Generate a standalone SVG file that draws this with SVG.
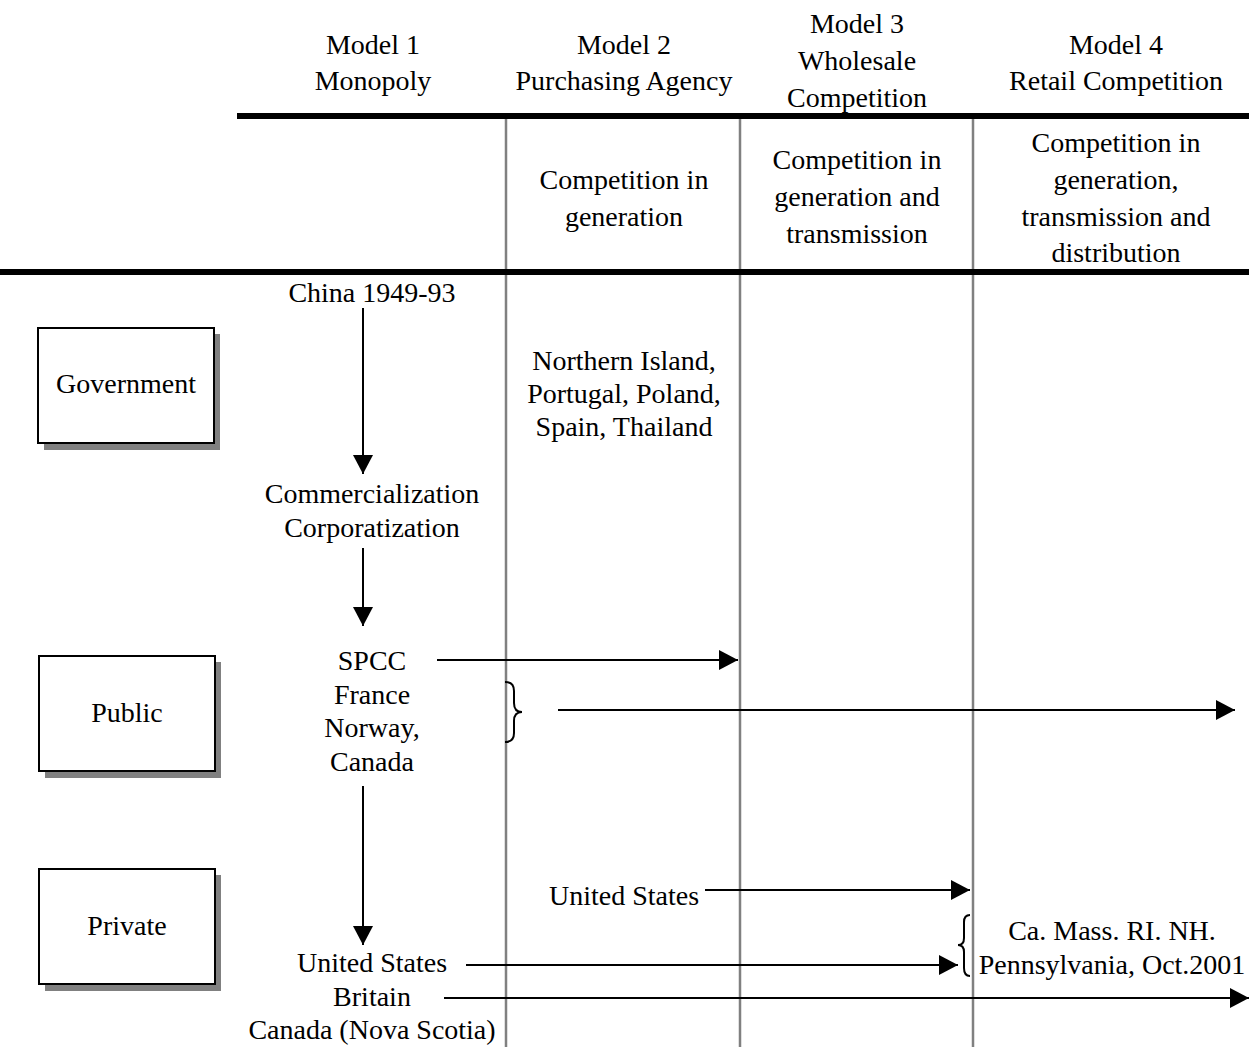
<svg xmlns="http://www.w3.org/2000/svg" width="1249" height="1047" viewBox="0 0 1249 1047">
<style>
text{font-family:"Liberation Serif","Times New Roman",serif;font-size:28px;fill:#000;text-anchor:middle}
.vl{stroke:#808080;stroke-width:2.5;fill:none}
.hl{stroke:#000;stroke-width:6;fill:none}
.box{fill:#fff;stroke:#000;stroke-width:2}
.sh{fill:#808080}
.c{stroke:#000;stroke-width:2;fill:none}
</style>
<defs>
<marker id="ah" markerUnits="userSpaceOnUse" markerWidth="22" markerHeight="22" refX="19" refY="10" orient="auto">
<path d="M0,0 L19,10 L0,20 Z" fill="#000"/>
</marker>
</defs>
<rect width="1249" height="1047" fill="#fff"/>
<g id="grid">
<line class="vl" x1="506" y1="119" x2="506" y2="1047"/>
<line class="vl" x1="740" y1="119" x2="740" y2="1047"/>
<line class="vl" x1="973" y1="119" x2="973" y2="1047"/>
<line class="hl" x1="237" y1="116" x2="1249" y2="116"/>
<line class="hl" x1="0" y1="272" x2="1249" y2="272"/>
</g>
<g id="headers">
<text x="373" y="54">Model 1</text>
<text x="373" y="90">Monopoly</text>
<text x="624" y="54">Model 2</text>
<text x="624" y="90">Purchasing Agency</text>
<text x="857" y="33">Model 3</text>
<text x="857" y="70">Wholesale</text>
<text x="857" y="107">Competition</text>
<text x="1116" y="54">Model 4</text>
<text x="1116" y="90">Retail Competition</text>
<text x="624" y="189">Competition in</text>
<text x="624" y="226">generation</text>
<text x="857" y="169">Competition in</text>
<text x="857" y="206">generation and</text>
<text x="857" y="243">transmission</text>
<text x="1116" y="152">Competition in</text>
<text x="1116" y="189">generation,</text>
<text x="1116" y="226">transmission and</text>
<text x="1116" y="262">distribution</text>
</g>
<g id="government">
<rect class="sh" x="44" y="334" width="176" height="116"/>
<rect class="box" x="38" y="328" width="176" height="115"/>
<text x="126" y="393">Government</text>
</g>
<g id="public">
<rect class="sh" x="45" y="662" width="176" height="116"/>
<rect class="box" x="39" y="656" width="176" height="115"/>
<text x="127" y="722">Public</text>
</g>
<g id="private">
<rect class="sh" x="45" y="875" width="176" height="116"/>
<rect class="box" x="39" y="869" width="176" height="115"/>
<text x="127" y="935">Private</text>
</g>
<g id="china"><text x="372" y="302">China 1949-93</text></g>
<g id="commercialization">
<text x="372" y="503">Commercialization</text>
<text x="372" y="537">Corporatization</text>
</g>
<g id="spcc">
<text x="372" y="670">SPCC</text>
<text x="372" y="704">France</text>
<text x="372" y="737">Norway,</text>
<text x="372" y="771">Canada</text>
</g>
<g id="private-countries">
<text x="372" y="972">United States</text>
<text x="372" y="1006">Britain</text>
<text x="372" y="1039">Canada (Nova Scotia)</text>
</g>
<g id="model2-countries">
<text x="624" y="370">Northern Island,</text>
<text x="624" y="403">Portugal, Poland,</text>
<text x="624" y="436">Spain, Thailand</text>
</g>
<g id="us-wholesale"><text x="624" y="905">United States</text></g>
<g id="retail-states">
<text x="1112" y="940">Ca. Mass. RI. NH.</text>
<text x="1112" y="974">Pennsylvania, Oct.2001</text>
</g>
<g id="connectors">
<line class="c" x1="363" y1="308" x2="363" y2="474" marker-end="url(#ah)"/>
<line class="c" x1="363" y1="548" x2="363" y2="626" marker-end="url(#ah)"/>
<line class="c" x1="363" y1="786" x2="363" y2="945" marker-end="url(#ah)"/>
<line class="c" x1="437" y1="660" x2="738" y2="660" marker-end="url(#ah)"/>
<path class="c" d="M505,682 Q514,682 514,691 L514,703 Q514,712 522,712 Q514,712 514,721 L514,733 Q514,742 505,742"/>
<line class="c" x1="558" y1="710" x2="1235" y2="710" marker-end="url(#ah)"/>
<line class="c" x1="705" y1="890" x2="970" y2="890" marker-end="url(#ah)"/>
<path class="c" d="M970,915 Q964,915 964,922 L964,938 Q964,945 958,945 Q964,945 964,952 L964,968 Q964,976 970,976"/>
<line class="c" x1="466" y1="965" x2="958" y2="965" marker-end="url(#ah)"/>
<line class="c" x1="444" y1="998" x2="1249" y2="998" marker-end="url(#ah)"/>
</g>
</svg>
